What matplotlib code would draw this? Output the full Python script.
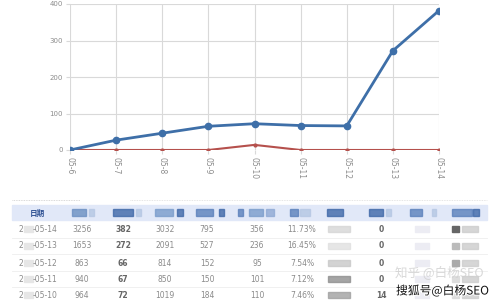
import matplotlib
matplotlib.use("Agg")
import matplotlib.pyplot as plt
from matplotlib.patches import Rectangle
import matplotlib.patheffects as pe

plt.rcParams['font.family'] = ['DejaVu Sans', 'Noto Sans CJK SC']

# ---- chart data ----
dates = ["05-6", "05-7", "05-8", "05-9", "05-10", "05-11", "05-12", "05-13", "05-14"]
blue_vals = [0, 27, 46, 65, 72, 67, 66, 272, 382]
red_vals = [0, 0, 0, 0, 14, 0, 0, 0, 0]
y_ticks = [0, 100, 200, 300, 400]

# ---- table data ----
header_first = "日期"
row_dates = ["-05-14", "-05-13", "-05-12", "-05-11", "-05-10"]
col_visits = ["3256", "1653", "863", "940", "964"]
col_bold = ["382", "272", "66", "67", "72"]
col_c = ["3032", "2091", "814", "850", "1019"]
col_d = ["795", "527", "152", "150", "184"]
col_e = ["356", "236", "95", "101", "110"]
col_pct = ["11.73%", "16.45%", "7.54%", "7.12%", "7.46%"]
col_z = ["0", "0", "0", "0", "14"]
watermark1 = "知乎 @白杨SEO"
watermark2 = "搜狐号@白杨SEO"

W, H = 499, 302
fig = plt.figure(figsize=(W / 100, H / 100), dpi=100)
fig.patch.set_facecolor("white")

# ---- line chart ----
ax = fig.add_axes([70 / W, 1 - 150 / H, (439 - 70) / W, (150 - 4) / H])
x = list(range(len(dates)))
ax.plot(x, red_vals, color="#b5504c", lw=1.5, marker="o", ms=2, zorder=3)
ax.plot(x, blue_vals, color="#3e6fa8", lw=2.0, marker="o", ms=4.5, zorder=4)
ax.set_xlim(0, len(dates) - 1)
ax.set_ylim(0, 400)
ax.set_yticks(y_ticks)
ax.set_yticklabels([str(v) for v in y_ticks], fontsize=5, color="#8c8c8c")
ax.set_xticks(x)
ax.set_xticklabels(dates, rotation=270, fontsize=5.5, color="#8c8c8c")
ax.grid(True, color="#d9d9d9", lw=0.8)
ax.tick_params(axis="both", length=3, color="#d9d9d9", pad=2)
for s in ax.spines.values():
    s.set_visible(False)
ax.set_axisbelow(True)

# ---- table (overlay in pixel coords) ----
tb = fig.add_axes([0, 0, 1, 1])
tb.set_xlim(0, W)
tb.set_ylim(H, 0)
tb.axis("off")
tb.patch.set_alpha(0)

# dotted lines above header
tb.plot([12, 80], [200, 200], color="#cccccc", lw=0.6, ls=(0, (1, 1)))
tb.plot([130, 487], [200, 200], color="#dddddd", lw=0.6, ls=(0, (1, 1)))
# header band
tb.add_patch(Rectangle((12, 205), 475, 15, color="#e1e8f8", zorder=1))
tb.text(37, 213, header_first, fontsize=5.5, color="#2c4f92", ha="center", va="center",
        family=["Noto Sans CJK SC"], fontweight="bold", zorder=3)

# blurred header labels (blue blocks)
hdr_blocks = [(72, 14, "#6b8fc2"), (89, 5, "#b5c7e3"), (113, 20, "#3f68a8"), (136, 5, "#b5c7e3"),
              (155, 18, "#7a9ccb"), (177, 6, "#3f68a8"), (196, 17, "#5a80bb"), (219, 5, "#3f68a8"),
              (238, 5, "#5a80bb"), (249, 14, "#7a9ccb"), (266, 8, "#8fa9d4"), (290, 8, "#5a80bb"),
              (300, 10, "#b5c7e3"), (327, 16, "#3f68a8"), (369, 14, "#3f68a8"), (386, 5, "#b5c7e3"),
              (410, 12, "#5a80bb"), (432, 4, "#b5c7e3"), (452, 20, "#5a80bb"), (473, 6, "#3f68a8")]
for bx, bw, bc in hdr_blocks:
    tb.add_patch(Rectangle((bx, 209), bw, 7, color=bc, alpha=0.8, zorder=2))

row_y = [229, 246, 263, 279, 295]
for ry in [238, 254, 271, 287]:
    tb.plot([12, 487], [ry, ry], color="#eeeeee", lw=0.6)

tc = "#8a8a8a"
fs = 5.5
for i, ry in enumerate(row_y):
    tb.text(19, ry, "2", fontsize=fs, color=tc, ha="left", va="center")
    tb.add_patch(Rectangle((24, ry - 3), 9, 6, color="#e6e6e6", zorder=2))
    tb.text(33, ry, row_dates[i], fontsize=fs, color=tc, ha="left", va="center")
    tb.text(82, ry, col_visits[i], fontsize=fs, color=tc, ha="center", va="center")
    tb.text(123, ry, col_bold[i], fontsize=fs, color="#666666", ha="center", va="center",
            fontweight="bold")
    tb.text(165, ry, col_c[i], fontsize=fs, color=tc, ha="center", va="center")
    tb.text(207, ry, col_d[i], fontsize=fs, color=tc, ha="center", va="center")
    tb.text(257, ry, col_e[i], fontsize=fs, color=tc, ha="center", va="center")
    tb.text(302, ry, col_pct[i], fontsize=fs, color=tc, ha="center", va="center")
    tb.text(381, ry, col_z[i], fontsize=fs, color="#666666", ha="center", va="center",
            fontweight="bold")
    # blurred cells
    g = ["#d6d6d6", "#e0e0e0", "#c8c8c8", "#8f8f8f", "#a0a0a0"][i]
    tb.add_patch(Rectangle((328, ry - 3), 22, 6, color=g, alpha=0.8, zorder=2))
    tb.add_patch(Rectangle((415, ry - 3), 14, 6, color="#ececf3", zorder=2))
    tb.add_patch(Rectangle((452, ry - 3), 7, 6,
                           color=["#666666", "#bbbbbb", "#aaaaaa", "#dddddd", "#dddddd"][i], zorder=2))
    tb.add_patch(Rectangle((462, ry - 3), 16, 6, color="#cccccc", alpha=0.8, zorder=2))

# watermarks
tb.text(395, 272, watermark1, fontsize=9, color="#cfcfcf", ha="left", va="center",
        family=["Noto Sans CJK SC"], alpha=0.8, zorder=5)
tb.text(396, 291, watermark2, fontsize=8.5, color="#111111", ha="left", va="center",
        family=["Noto Sans CJK SC"], zorder=6,
        path_effects=[pe.withStroke(linewidth=1.5, foreground="white")])

fig.savefig("out.png", dpi=100, facecolor="white")
